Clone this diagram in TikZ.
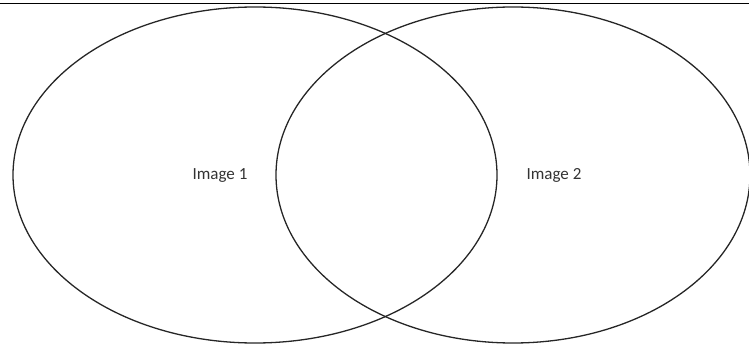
\documentclass[tikz,border=0pt]{standalone}
\usepackage{fontspec}
\setmainfont{Carlito}
\begin{document}
\begin{tikzpicture}[x=1pt,y=-1pt]
                % Fix the page to the picture size
                \useasboundingbox (0,0) rectangle (749,347);
                \draw[black, line width=1pt] (0,4) -- (749,4);

                % Draw the two overlapping ellipses
                \draw[black!85, line width=1.3pt] (255,175) ellipse [x radius=242, y radius=168];
                \draw[black!85, line width=1.3pt] (513,175) ellipse [x radius=237, y radius=168];

                % Labels
                \node[font=\fontsize{17}{20}\selectfont, text=black!80] (img1) at (220,175) {Image 1};
                \node[font=\fontsize{17}{20}\selectfont, text=black!80] (img2) at (554,175) {Image 2};
            \end{tikzpicture}
\end{document}
